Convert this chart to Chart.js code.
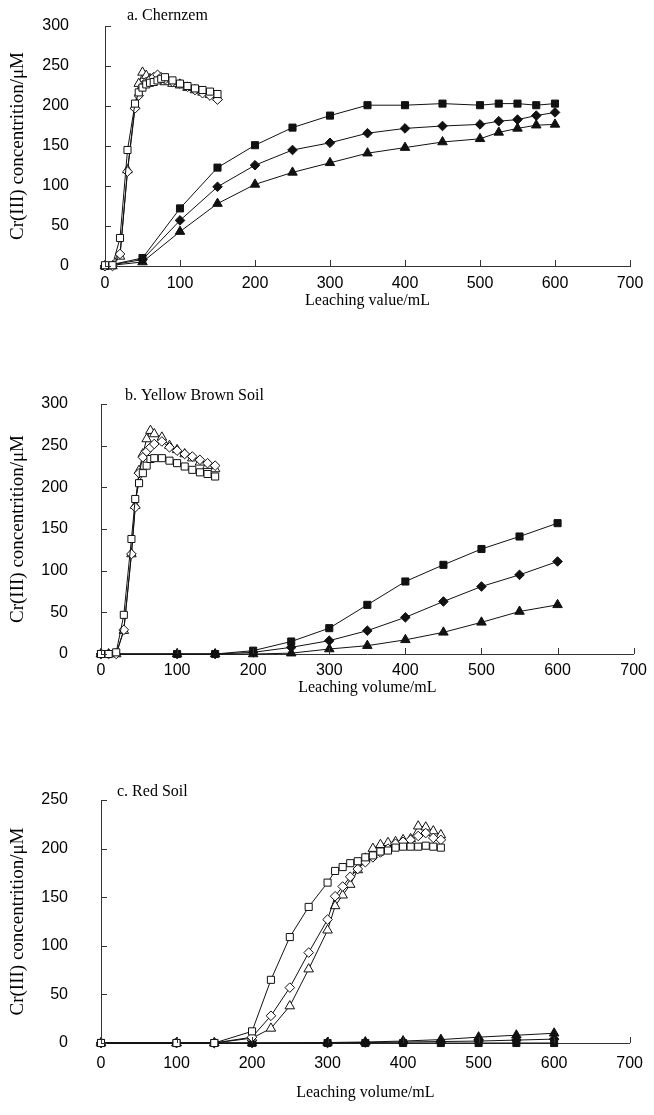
<!DOCTYPE html>
<html>
<head>
<meta charset="utf-8">
<script src="https://cdn.jsdelivr.net/npm/chart.js@4.4.1/dist/chart.umd.min.js"></script>
<style>
  body { margin: 0; background: #fff; }
  #wrap { position: relative; width: 654px; height: 1115px; }
  .panel { position: absolute; left: 0; width: 654px; }
</style>
</head>
<body>
<div id="wrap">
  <div class="panel" style="top:0;height:320px"><canvas id="chartA"></canvas></div>
  <div class="panel" style="top:370px;height:340px"><canvas id="chartB"></canvas></div>
  <div class="panel" style="top:760px;height:355px"><canvas id="chartC"></canvas></div>
</div>
<script>
// a. Chernzem
var aOpenX = [0, 10, 20, 30, 40, 45, 50, 55, 60, 65, 70, 75, 80, 90, 100, 110, 120, 130, 140, 150];
var aOpenSq = [1, 1, 35, 145, 203, 217, 223, 227, 229, 230, 232, 234, 236, 232, 228, 225, 222, 220, 218, 215];
var aOpenDi = [0, 0, 15, 118, 197, 213, 224, 230, 233, 236, 239, 236, 233, 230, 228, 224, 220, 216, 213, 208];
var aOpenTr = [0, 0, 12, 120, 200, 228, 242, 238, 234, 232, 235, 233, 230, 228, 226, 223, 220, 217, 214, 211];
var aFillX = [0, 50, 100, 150, 200, 250, 300, 350, 400, 450, 500, 525, 550, 575, 600];
var aFillSq = [0, 10, 72, 123, 151, 173, 188, 201, 201, 203, 201, 203, 203, 201, 203];
var aFillDi = [0, 8, 57, 99, 126, 145, 154, 166, 172, 175, 177, 181, 183, 188, 192];
var aFillTr = [0, 5, 43, 78, 102, 117, 129, 141, 148, 155, 159, 167, 172, 176, 177];

// b. Yellow Brown Soil
var bOpenX = [0, 10, 20, 30, 40, 45, 50, 55, 60, 65, 70, 80, 90, 100, 110, 120, 130, 140, 150];
var bOpenSq = [0, 0, 2, 47, 138, 186, 205, 217, 226, 234, 235, 235, 232, 229, 225, 221, 218, 216, 213];
var bOpenDi = [0, 0, 0, 29, 120, 176, 217, 236, 243, 248, 252, 255, 248, 244, 240, 237, 233, 229, 226];
var bOpenTr = [0, 0, 0, 28, 120, 178, 220, 240, 258, 268, 264, 260, 250, 245, 240, 235, 230, 226, 222];
var bFillX = [0, 100, 150, 200, 250, 300, 350, 400, 450, 500, 550, 600];
var bFillSq = [0, 0, 0, 4, 15, 31, 59, 87, 107, 126, 141, 157];
var bFillDi = [0, 0, 0, 2, 8, 16, 28, 44, 63, 81, 95, 111];
var bFillTr = [0, 0, 0, 0, 1, 6, 10, 17, 26, 38, 51, 59];

// c. Red Soil
var cOpenX = [0, 100, 150, 200, 225, 250, 275, 300, 310, 320, 330, 340, 350, 360, 370, 380, 390, 400, 410, 420, 430, 440, 450];
var cOpenSq = [0, 0, 0, 12, 65, 109, 140, 165, 177, 181, 185, 187, 191, 193, 197, 198, 201, 202, 202, 202, 203, 202, 201];
var cOpenDi = [0, 0, 0, 6, 28, 57, 93, 127, 151, 161, 171, 179, 186, 191, 196, 200, 205, 207, 209, 213, 216, 211, 209];
var cOpenTr = [0, 0, 0, 5, 15, 38, 76, 116, 141, 152, 163, 178, 190, 200, 204, 206, 207, 209, 210, 223, 222, 218, 214];
var cFillX = [0, 100, 150, 200, 300, 350, 400, 450, 500, 550, 600];
var cFillSq = [0, 0, 0, 0, 0, 0, 0, 0, 0, 0, 0];
var cFillDi = [0, 0, 0, 0, 0, 0.5, 1, 1.5, 2, 3, 4];
var cFillTr = [0, 0, 0, 0, 0.5, 1, 2, 3.5, 6, 8, 10];

var xTickMax = 700;
var yTitle = "Cr(III) concentrition/\u03bcM";

// inward tick marks + panel label inside the plot
var innerTicks = {
  id: "innerTicks",
  afterDraw: function (chart, args, opts) {
    var ctx = chart.ctx, xs = chart.scales.x, ys = chart.scales.y, area = chart.chartArea;
    ctx.save();
    ctx.strokeStyle = "#333";
    ctx.lineWidth = 1;
    ctx.beginPath();
    xs.ticks.forEach(function (t) {
      var px = Math.round(xs.getPixelForValue(t.value)) + 0.5;
      ctx.moveTo(px, area.bottom);
      ctx.lineTo(px, area.bottom - 6);
    });
    ys.ticks.forEach(function (t) {
      var py = Math.round(ys.getPixelForValue(t.value)) + 0.5;
      ctx.moveTo(area.left, py);
      ctx.lineTo(area.left + 6, py);
    });
    ctx.stroke();
    ctx.fillStyle = "#000";
    ctx.font = "16px 'Liberation Serif'";
    ctx.textBaseline = "middle";
    ctx.fillText(opts.label, area.left + opts.dx, area.top + opts.dy);
    ctx.restore();
  }
};

function series(xs, ys, style, filled) {
  return {
    data: xs.map(function (x, i) { return {x: x, y: ys[i]}; }),
    pointStyle: style,
    pointRadius: style === "triangle" ? 5.5 : (style === "rect" ? 5 : 4.8),
    pointBackgroundColor: filled ? "#111" : "#fff",
    pointBorderColor: "#111",
    pointBorderWidth: 1,
    borderColor: "#111",
    borderWidth: 1,
    fill: false,
    tension: 0,
    clip: false
  };
}

function makePanel(id, label, xTitle, yMax, box, sets) {
  new Chart(id, {
    type: "line",
    data: {datasets: sets},
    plugins: [innerTicks],
    options: {
      responsive: true,
      maintainAspectRatio: false,
      animation: false,
      layout: {padding: {top: box.top, right: box.right, left: 0, bottom: 0}},
      plugins: {
        legend: {display: false},
        tooltip: {enabled: false},
        innerTicks: {label: label, dx: box.labelDx, dy: box.labelDy}
      },
      scales: {
        x: {
          type: "linear", min: 0, max: xTickMax,
          ticks: {stepSize: 100, color: "#000", padding: box.xTickPad, maxRotation: 0,
                  font: {family: "Liberation Sans", size: 16}},
          grid: {display: false, drawTicks: false},
          border: {display: true, color: "#333", width: 1},
          title: {display: true, text: xTitle, color: "#000",
                  font: {family: "Liberation Serif", size: 16},
                  padding: {top: 0, bottom: box.xTitlePad}},
          afterFit: function (s) { s.height = box.xH; }
        },
        y: {
          min: 0, max: yMax,
          ticks: {stepSize: 50, color: "#000", padding: 0,
                  font: {family: "Liberation Sans", size: 16}},
          // tickLength only offsets the labels; marks are drawn inward by the plugin
          grid: {display: false, drawTicks: true, tickLength: box.yLabelGap},
          border: {display: true, color: "#333", width: 1},
          title: {display: true, text: yTitle, color: "#000",
                  font: {family: "Liberation Serif", size: 19},
                  padding: {top: 7, bottom: 0}},
          afterFit: function (s) { s.width = box.yW; }
        }
      }
    }
  });
}

makePanel("chartA", "a. Chernzem", "Leaching value/mL", 300,
  {top: 26, right: 24, yW: 105, xH: 54, xTickPad: 8, xTitlePad: 10, yLabelGap: 36, labelDx: 22, labelDy: -10},
  [series(aOpenX, aOpenSq, "rect", false), series(aOpenX, aOpenDi, "rectRot", false), series(aOpenX, aOpenTr, "triangle", false),
   series(aFillX, aFillSq, "rect", true), series(aFillX, aFillDi, "rectRot", true), series(aFillX, aFillTr, "triangle", true)]);

makePanel("chartB", "b. Yellow Brown Soil", "Leaching volume/mL", 300,
  {top: 34, right: 20, yW: 101, xH: 56, xTickPad: 7, xTitlePad: 13, yLabelGap: 33, labelDx: 24, labelDy: -8},
  [series(bOpenX, bOpenSq, "rect", false), series(bOpenX, bOpenDi, "rectRot", false), series(bOpenX, bOpenTr, "triangle", false),
   series(bFillX, bFillSq, "rect", true), series(bFillX, bFillDi, "rectRot", true), series(bFillX, bFillTr, "triangle", true)]);

makePanel("chartC", "c. Red Soil", "Leaching volume/mL", 250,
  {top: 40, right: 21, yW: 101, xH: 72, xTickPad: 11, xTitlePad: 13, yLabelGap: 33, labelDx: 16, labelDy: -8},
  [series(cOpenX, cOpenSq, "rect", false), series(cOpenX, cOpenDi, "rectRot", false), series(cOpenX, cOpenTr, "triangle", false),
   series(cFillX, cFillSq, "rect", true), series(cFillX, cFillDi, "rectRot", true), series(cFillX, cFillTr, "triangle", true)]);
</script>
</body>
</html>
